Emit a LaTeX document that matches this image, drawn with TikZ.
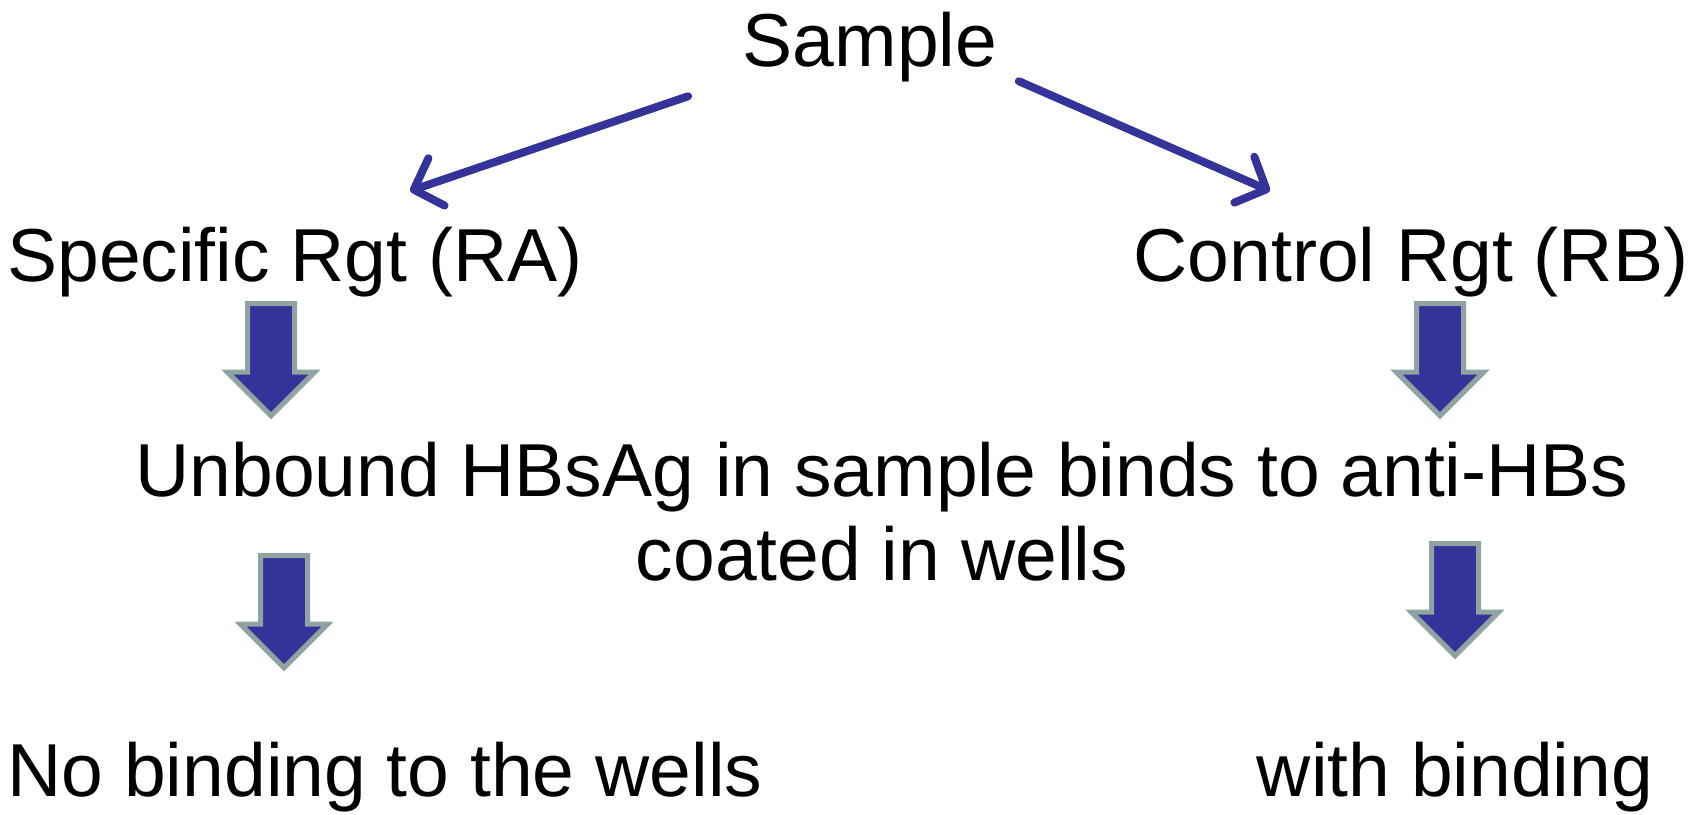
\documentclass[tikz,border=0pt]{standalone}
\usepackage{fontspec}
\setmainfont{Liberation Sans}
\usetikzlibrary{shapes.arrows, arrows.meta, positioning}
\definecolor{arrblue}{RGB}{51,51,153}
\definecolor{arrgrey}{RGB}{143,163,163}

\begin{document}
\begin{tikzpicture}[
        font=\fontsize{21.35}{23.9}\selectfont,
        txt/.style={inner sep=0pt, anchor=base},
        thinarr/.style={-{Straight Barb[round, length=0.24cm, width=0.5cm]}, line width=0.08cm, line cap=round, arrblue},
        blockarr/.style={single arrow, draw=arrgrey, fill=arrblue, line width=0.05cm, rotate=-90,
            inner xsep=0pt, inner ysep=0.21cm, minimum height=1.12cm, minimum width=0.82cm,
            single arrow head extend=0.2cm}
    ]
        \useasboundingbox (0,0) rectangle (17.03,-8.15);

        \node[txt] (sample)   at (8.70,-0.67) {Sample};
        \node[txt] (specific) at (2.95,-2.82) {Specific Rgt (RA)};
        \node[txt] (control)  at (14.11,-2.82) {Control Rgt (RB)};
        \node[txt, align=center] (unbound) at (8.82,-5.81) {Unbound HBsAg in sample binds to anti-HBs\\coated in wells};
        \node[txt] (nobind)   at (3.85,-7.96) {No binding to the wells};
        \node[txt] (withbind) at (14.55,-7.96) {with binding};

        % block arrows
        \node[blockarr] (down1) at (2.71,-3.48) {};
        \node[blockarr] (down2) at (14.40,-3.48) {};
        \node[blockarr] (down3) at (2.84,-6.00) {};
        \node[blockarr] (down4) at (14.55,-5.88) {};

        \draw[thinarr] ([shift={(-0.54,-0.13)}]sample.south west) -- ([shift={(1.15,0.36)}]specific.north);
        \draw[thinarr] ([shift={(0.21,0.02)}]sample.south east) -- ([shift={(-1.41,0.36)}]control.north);
    \end{tikzpicture}
\end{document}
